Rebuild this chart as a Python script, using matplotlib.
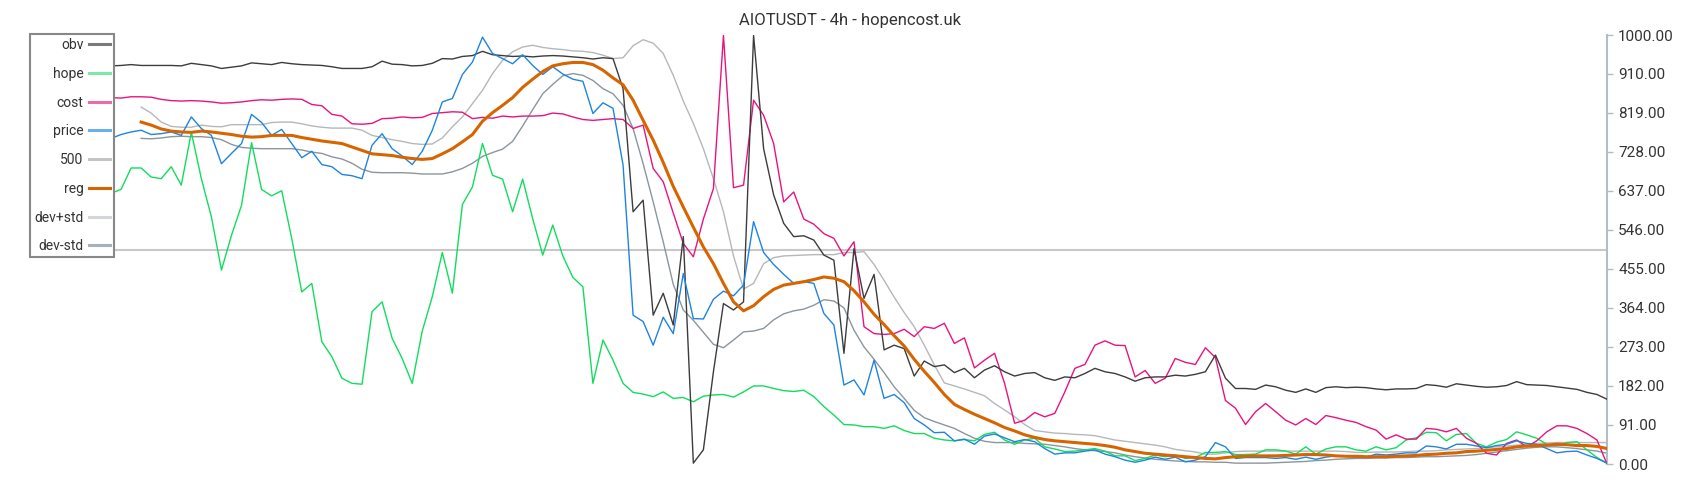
import numpy as np
import matplotlib.pyplot as plt
from matplotlib.lines import Line2D
from matplotlib.ticker import FormatStrFormatter

plt.rcParams['font.family'] = ['Roboto', 'DejaVu Sans']

title = 'AIOTUSDT - 4h - hopencost.uk'
nan = float('nan')

# values, one point every ~10 px
obv = [928, 929, 931, 929, 929, 929, 929, 928, 934, 931, 928, 922, 925, 928, 935, 933, 931, 936, 933, 931, 930, 929, 926, 922, 922,
       922, 926, 939, 932, 931, 928, 929, 934, 945, 944, 950, 952, 962, 954, 952, 950, 951, 949, 951, 952, 951, 949, 947, 944, 947,
       945, 875, 588, 615, 347, 398, 324, 530, 2, 33, 215, 374, 359, 378, 999, 735, 627, 561, 530, 532, 522, 487, 475, 258, 502,
       386, 442, 266, 277, 269, 205, 240, 227, 231, 213, 223, 201, 219, 229, 215, 205, 211, 213, 201, 195, 203, 201, 211, 223, 215,
       211, 203, 193, 201, 203, 203, 207, 205, 209, 215, 254, 200, 176, 176, 174, 184, 180, 172, 167, 175, 167, 178, 180, 178, 179,
       178, 175, 173, 175, 175, 176, 185, 183, 179, 187, 184, 181, 179, 180, 183, 192, 185, 184, 183, 180, 177, 174, 167, 162, 151]

hope = [631, 640, 690, 690, 669, 665, 693, 650, 773, 665, 576, 452, 533, 603, 749, 640, 625, 637, 526, 401, 421, 285, 250, 200, 188,
        186, 355, 378, 293, 246, 188, 310, 390, 493, 398, 605, 646, 747, 673, 664, 588, 664, 572, 487, 557, 485, 435, 413, 188, 289,
        242, 188, 167, 163, 157, 168, 153, 155, 145, 158, 161, 162, 156, 168, 182, 182, 176, 171, 169, 172, 157, 134, 114, 92, 91,
        87, 87, 83, 89, 78, 71, 71, 60, 56, 54, 57, 54, 69, 74, 56, 46, 56, 60, 40, 35, 29, 30, 33, 36, 30,
        19, 19, 8, 13, 21, 17, 21, 13, 15, 27, 27, 29, 22, 22, 23, 33, 33, 30, 23, 40, 23, 35, 40, 40, 33,
        30, 40, 33, 38, 56, 61, 74, 73, 54, 69, 71, 48, 40, 51, 57, 75, 68, 60, 46, 43, 50, 52, 33, 15, 2]

cost = [854, 853, 856, 856, 855, 850, 847, 846, 847, 846, 844, 841, 842, 844, 847, 849, 848, 850, 851, 850, 838, 835, 815, 811, 793,
        792, 794, 805, 806, 809, 807, 808, 817, 819, 821, 820, 805, 808, 806, 811, 809, 811, 811, 812, 818, 816, 809, 803, 801, 803,
        805, 803, 782, 790, 689, 658, 585, 514, 483, 571, 642, 999, 644, 650, 848, 813, 747, 611, 634, 571, 559, 537, 526, 485, 518,
        320, 304, 302, 304, 314, 297, 320, 316, 328, 281, 294, 224, 242, 258, 188, 95, 102, 120, 110, 118, 168, 223, 232, 277, 287,
        277, 276, 203, 218, 188, 200, 246, 237, 232, 271, 248, 148, 130, 92, 122, 141, 122, 102, 91, 106, 92, 113, 108, 102, 97,
        87, 79, 58, 68, 58, 58, 83, 81, 75, 83, 60, 48, 25, 21, 48, 56, 40, 54, 75, 89, 89, 83, 71, 56, 0]

price = [759, 768, 774, 778, 768, 770, 774, 766, 809, 782, 766, 700, 724, 747, 815, 796, 766, 780, 747, 714, 729, 698, 693, 675, 672,
         665, 743, 770, 735, 718, 698, 729, 778, 844, 852, 908, 937, 995, 957, 945, 933, 954, 929, 908, 926, 909, 897, 892, 817, 842,
         829, 697, 347, 332, 277, 342, 304, 444, 339, 338, 384, 403, 392, 417, 565, 493, 465, 442, 421, 425, 421, 351, 324, 184, 196,
         161, 242, 153, 162, 143, 106, 91, 73, 74, 54, 58, 46, 65, 70, 61, 52, 57, 52, 36, 23, 26, 26, 30, 33, 23,
         17, 9, 4, 9, 16, 11, 16, 5, 9, 17, 50, 40, 13, 15, 15, 15, 13, 15, 11, 16, 11, 16, 19, 18, 16,
         16, 23, 21, 23, 26, 26, 42, 40, 35, 46, 46, 42, 38, 43, 46, 54, 48, 46, 36, 26, 29, 30, 21, 13, 2]

reg = [nan, nan, nan, 797, 790, 781, 776, 774, 773, 776, 774, 771, 768, 764, 762, 763, 766, 766, 766, 761, 757, 753, 750, 747, 739,
       731, 723, 721, 719, 715, 712, 710, 712, 723, 735, 751, 768, 799, 819, 836, 854, 878, 897, 915, 928, 933, 936, 936, 931, 918,
       900, 884, 848, 801, 755, 703, 647, 599, 552, 506, 467, 421, 378, 357, 369, 390, 407, 417, 421, 425, 430, 436, 433, 425, 404,
       378, 349, 325, 299, 275, 244, 216, 190, 162, 139, 127, 116, 106, 96, 85, 77, 68, 62, 57, 54, 52, 50, 48, 46, 43,
       39, 33, 29, 25, 23, 21, 19, 17, 15, 13, 12, 15, 17, 18, 19, 19, 19, 20, 21, 22, 22, 21, 19, 18, 18,
       17, 17, 17, 18, 19, 20, 22, 23, 25, 26, 29, 30, 32, 34, 36, 40, 42, 43, 44, 46, 45, 43, 43, 41, 36]

dev_plus = [nan, nan, nan, 832, 818, 797, 787, 785, 785, 790, 787, 786, 791, 791, 791, 791, 796, 797, 797, 793, 788, 785, 783, 783, 783,
            778, 766, 761, 756, 752, 747, 745, 746, 760, 786, 809, 840, 871, 910, 941, 961, 972, 976, 971, 968, 966, 963, 962, 959, 953,
            945, 947, 975, 989, 981, 957, 906, 846, 794, 735, 665, 588, 485, 408, 421, 467, 481, 485, 486, 487, 488, 488, 488, 493, 493,
            495, 465, 428, 389, 353, 320, 277, 231, 189, 182, 175, 167, 159, 141, 126, 110, 92, 78, 75, 72, 71, 69, 68, 66, 61,
            56, 53, 50, 47, 44, 40, 34, 31, 28, 23, 23, 26, 29, 30, 30, 30, 30, 30, 30, 30, 30, 30, 30, 29, 27,
            27, 28, 28, 28, 29, 30, 30, 31, 33, 34, 35, 36, 38, 40, 42, 44, 46, 48, 49, 50, 50, 50, 50, 50, 50]

dev_minus = [nan, nan, nan, 759, 758, 760, 763, 764, 763, 763, 761, 756, 745, 738, 736, 735, 735, 735, 735, 732, 727, 724, 716, 711, 701,
             687, 680, 679, 679, 679, 678, 676, 676, 676, 681, 689, 701, 717, 726, 734, 752, 788, 826, 863, 885, 905, 910, 906, 894, 875,
             863, 836, 782, 700, 611, 518, 419, 359, 335, 307, 279, 271, 289, 308, 310, 316, 336, 350, 357, 361, 370, 383, 380, 364, 312,
             273, 244, 213, 180, 153, 125, 108, 99, 91, 83, 71, 60, 53, 50, 50, 50, 48, 47, 46, 43, 40, 36, 33, 31, 29,
             26, 21, 17, 14, 11, 9, 7, 6, 5, 5, 4, 4, 2, 2, 2, 2, 3, 4, 5, 6, 8, 9, 11, 12, 13,
             13, 14, 14, 15, 15, 16, 17, 17, 18, 19, 20, 22, 25, 28, 31, 34, 37, 39, 40, 40, 38, 36, 33, 30, 25]

level = 500
yticks = [0, 91, 182, 273, 364, 455, 546, 637, 728, 819, 910, 1000]

x = np.arange(len(obv))

fig = plt.figure(figsize=(17, 5), dpi=100)
ax = fig.add_axes([111 / 1700, 36 / 500, 1496 / 1700, 429 / 500])

ax.axhline(level, color='#c8c8c8', lw=1.5, zorder=1)
ax.plot(x, dev_minus, color='#8a969e', lw=1.0, zorder=2)
ax.plot(x, dev_plus, color='#b4b8bc', lw=1.0, zorder=2)
ax.plot(x, hope, color='#12dc5e', lw=1.0, zorder=3)
ax.plot(x, cost, color='#e8137f', lw=1.0, zorder=3)
ax.plot(x, obv, color='#3c3c3c', lw=1.0, zorder=4)
ax.plot(x, price, color='#1e84e0', lw=1.0, zorder=4)
ax.plot(x, reg, color='#d86400', lw=2.2, zorder=5)

ax.set_xlim(0, len(obv) - 1)
ax.set_ylim(0, 1000)
ax.set_xticks([])
ax.set_yticks(yticks)
ax.yaxis.set_major_formatter(FormatStrFormatter('%.2f'))
ax.yaxis.tick_right()
for side in ['top', 'left', 'bottom']:
    ax.spines[side].set_visible(False)
ax.spines['right'].set_color('#b0bec5')
ax.spines['right'].set_linewidth(1.5)
ax.tick_params(axis='y', colors='#b0bec5', labelcolor='#333333', length=4, width=1, pad=4, labelsize=11)

fig.text(0.5, 1 - 21 / 500, title, ha='center', va='center', fontsize=12, color='#333333')

# legend swatches are lighter/thicker than the plotted lines
handles = [Line2D([], [], color='#7a7a7a', lw=2.2),
           Line2D([], [], color='#7ee8a6', lw=2.2),
           Line2D([], [], color='#ec6aaa', lw=2.2),
           Line2D([], [], color='#6aaeea', lw=2.2),
           Line2D([], [], color='#c4c4c4', lw=2.2),
           Line2D([], [], color='#d86400', lw=2.2),
           Line2D([], [], color='#d2d6da', lw=2.2),
           Line2D([], [], color='#a8b0b8', lw=2.2)]
labels = ['obv', 'hope', 'cost', 'price', '500', 'reg', 'dev+std', 'dev-std']
leg = fig.legend(handles, labels, loc='upper left', bbox_to_anchor=(30 / 1700, 1 - 34 / 500),
                 bbox_transform=fig.transFigure, markerfirst=False, frameon=True, fancybox=False,
                 edgecolor='#888888', framealpha=1, fontsize=10, labelcolor='#333333',
                 borderpad=0.3, labelspacing=1.06, handlelength=1.5, handletextpad=0.4, borderaxespad=0)
leg.get_frame().set_linewidth(1.5)

fig.savefig('out.png', dpi=100)
